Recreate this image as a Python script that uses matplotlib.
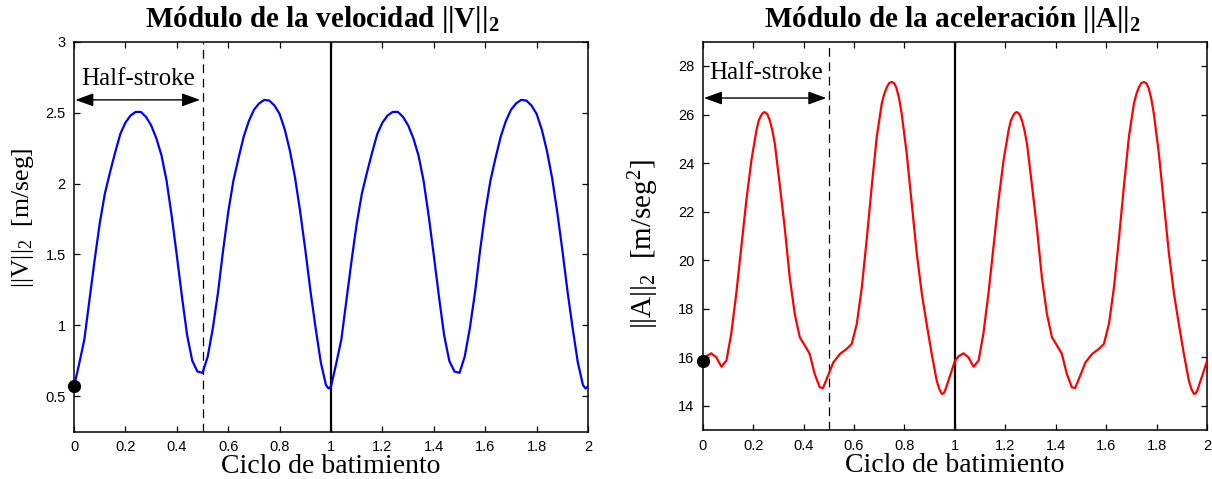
import numpy as np
import matplotlib
matplotlib.use("Agg")
import matplotlib.pyplot as plt

plt.rcParams["mathtext.fontset"] = "custom"
plt.rcParams["mathtext.rm"] = "Liberation Serif"
plt.rcParams["mathtext.default"] = "regular"

# One flapping cycle (phase in [0, 1)); the motion is periodic.
phase_v = [0.00, 0.02, 0.04, 0.06, 0.08, 0.10, 0.12, 0.14, 0.16, 0.18,
           0.20, 0.22, 0.24, 0.26, 0.28, 0.30, 0.32, 0.34, 0.36, 0.38,
           0.40, 0.42, 0.44, 0.46, 0.48, 0.50, 0.52, 0.54, 0.56, 0.58,
           0.60, 0.62, 0.64, 0.66, 0.68, 0.70, 0.72, 0.74, 0.76, 0.78,
           0.80, 0.82, 0.84, 0.86, 0.88, 0.90, 0.92, 0.94, 0.96, 0.98,
           0.99]
vel = [0.57, 0.73, 0.90, 1.18, 1.46, 1.72, 1.93, 2.08, 2.22, 2.35,
       2.43, 2.48, 2.505, 2.505, 2.47, 2.41, 2.32, 2.20, 2.02, 1.77,
       1.49, 1.20, 0.93, 0.75, 0.675, 0.665, 0.78, 0.98, 1.23, 1.53,
       1.80, 2.02, 2.18, 2.33, 2.44, 2.52, 2.565, 2.59, 2.585, 2.55,
       2.49, 2.38, 2.23, 2.04, 1.80, 1.53, 1.24, 0.98, 0.74, 0.58,
       0.555]

phase_a = [0.0, 0.015, 0.034, 0.054, 0.074, 0.094, 0.113, 0.133, 0.153, 0.173,
           0.193, 0.213, 0.222, 0.232, 0.239, 0.246, 0.256, 0.266, 0.276, 0.286,
           0.305, 0.325, 0.345, 0.365, 0.385, 0.405, 0.424, 0.444, 0.464, 0.477,
           0.497, 0.518, 0.545, 0.571, 0.591, 0.611, 0.631, 0.650, 0.670, 0.690,
           0.710, 0.720, 0.730, 0.740, 0.750, 0.760, 0.769, 0.779, 0.789, 0.809,
           0.829, 0.849, 0.869, 0.888, 0.908, 0.928, 0.938, 0.948, 0.955, 0.961,
           0.981]
acc = [15.85, 16.05, 16.17, 16.0, 15.62, 15.87, 16.97, 18.62, 20.54, 22.46,
       24.11, 25.35, 25.75, 25.97, 26.07, 26.10, 26.02, 25.76, 25.35, 24.80,
       23.15, 21.36, 19.30, 17.79, 16.83, 16.49, 16.15, 15.32, 14.77, 14.74,
       15.25, 15.80, 16.15, 16.35, 16.56, 17.38, 18.89, 20.82, 23.01, 25.07,
       26.45, 26.85, 27.13, 27.30, 27.34, 27.28, 27.07, 26.65, 26.04, 24.39,
       22.33, 20.27, 18.62, 17.38, 16.15, 15.04, 14.70, 14.50, 14.52, 14.63,
       15.25]

n_cycles = 2
x_ticks = [0, 0.2, 0.4, 0.6, 0.8, 1, 1.2, 1.4, 1.6, 1.8, 2]
x_ticklabels = ["0", "0.2", "0.4", "0.6", "0.8", "1", "1.2", "1.4", "1.6", "1.8", "2"]
v_ticks = [0.5, 1, 1.5, 2, 2.5, 3]
v_ticklabels = ["0.5", "1", "1.5", "2", "2.5", "3"]
a_ticks = [14, 16, 18, 20, 22, 24, 26, 28]
a_ticklabels = ["14", "16", "18", "20", "22", "24", "26", "28"]


def repeat_cycles(phase, values, n):
    xs, ys = [], []
    for k in range(n):
        xs.extend(p + k for p in phase)
        ys.extend(values)
    xs.append(float(n))
    ys.append(values[0])
    return np.array(xs), np.array(ys)


SERIF = "Liberation Serif"
SANS = "Liberation Sans"

fig = plt.figure(figsize=(12.12, 4.79), dpi=100)
ax1 = fig.add_axes([0.0611, 0.0987, 0.4241, 0.8142])
ax2 = fig.add_axes([0.5798, 0.1017, 0.4161, 0.8113])


def style_axes(ax, yticks, yticklabels, ylim):
    ax.set_xlim(0, 2)
    ax.set_ylim(*ylim)
    ax.set_xticks(x_ticks)
    ax.set_xticklabels(x_ticklabels, fontfamily=SANS, fontsize=10.5)
    ax.set_yticks(yticks)
    ax.set_yticklabels(yticklabels, fontfamily=SANS, fontsize=10.5)
    ax.tick_params(direction="in", length=4.5, width=0.9, top=True, right=True,
                   pad=6)
    for sp in ax.spines.values():
        sp.set_linewidth(1.1)
    ax.set_xlabel("Ciclo de batimiento", fontfamily=SERIF, fontsize=20, labelpad=0)


def draw_panel(ax, phase, values, color, ylim, yticks, yticklabels,
               title, title_x, ylabel, ylabel_size, ylabel_xy, arrow_y, text_y):
    x, y = repeat_cycles(phase, values, n_cycles)
    style_axes(ax, yticks, yticklabels, ylim)
    ax.plot(x, y, color=color, lw=1.6, zorder=3, solid_joinstyle="round")
    ax.axvline(0.5, color="black", lw=0.9, linestyle=(0, (7, 4.5)), zorder=2)
    ax.axvline(1.0, color="black", lw=1.6, zorder=2)
    ax.plot([x[0]], [y[0]], "o", color="black", ms=8.5, clip_on=False, zorder=5)
    ax.annotate("", xy=(0.005, arrow_y), xytext=(0.49, arrow_y),
                arrowprops=dict(arrowstyle="<|-|>,head_length=0.55,head_width=0.2",
                                color="black", lw=1.0, mutation_scale=20,
                                shrinkA=0, shrinkB=0))
    ax.text(0.25, text_y, "Half-stroke", fontfamily=SERIF, fontsize=18,
            ha="center", va="center")
    ax.text(title_x, 1.038, title, transform=ax.transAxes, ha="center",
            va="baseline", fontfamily=SERIF, fontweight="bold", fontsize=21)
    ax.set_ylabel(ylabel, fontfamily=SERIF, fontsize=ylabel_size)
    ax.yaxis.set_label_coords(*ylabel_xy)


draw_panel(ax1, phase_v, vel, "#0000ff", (0.25, 3), v_ticks, v_ticklabels,
           "Módulo de la velocidad $||V||_2$", 0.4825,
           "$||V||_2$  [m/seg]", 18.5, (-0.075, 0.55), 2.59, 2.74)
draw_panel(ax2, phase_a, acc, "#ff0000", (13, 29), a_ticks, a_ticklabels,
           "Módulo de la aceleración $||A||_2$", 0.495,
           "$||A||_2$  [m/seg$^2$]", 21, (-0.082, 0.48), 26.68, 27.71)

fig.savefig("out.png", dpi=100)
